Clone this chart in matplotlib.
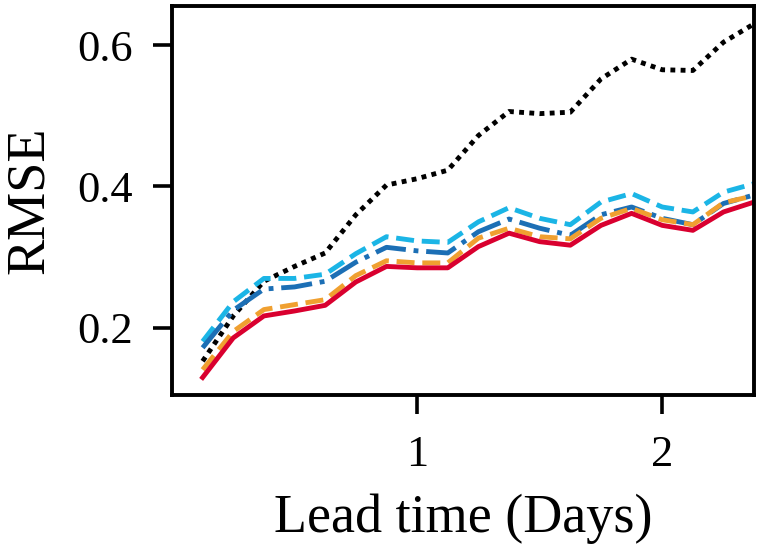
import matplotlib
matplotlib.use("Agg")
import matplotlib.pyplot as plt

# lead time in days (3-hourly steps)
lead_days = [0.125, 0.25, 0.375, 0.5, 0.625, 0.75, 0.875, 1.0, 1.125, 1.25,
             1.375, 1.5, 1.625, 1.75, 1.875, 2.0, 2.125, 2.25, 2.375]

rmse_black = [0.153, 0.217, 0.266, 0.287, 0.306, 0.360, 0.402, 0.411, 0.423, 0.472,
              0.506, 0.503, 0.505, 0.552, 0.580, 0.565, 0.564, 0.604, 0.630]
rmse_cyan = [0.181, 0.237, 0.270, 0.270, 0.276, 0.305, 0.329, 0.323, 0.321, 0.350,
             0.370, 0.355, 0.346, 0.378, 0.390, 0.371, 0.364, 0.392, 0.404]
rmse_blue = [0.172, 0.225, 0.255, 0.258, 0.266, 0.293, 0.314, 0.309, 0.306, 0.336,
             0.354, 0.341, 0.331, 0.360, 0.371, 0.355, 0.346, 0.376, 0.388]
rmse_orange = [0.141, 0.195, 0.226, 0.233, 0.240, 0.274, 0.295, 0.292, 0.292, 0.327,
               0.341, 0.329, 0.326, 0.355, 0.369, 0.353, 0.346, 0.377, 0.387]
rmse_red = [0.130, 0.186, 0.217, 0.224, 0.232, 0.265, 0.287, 0.285, 0.285, 0.315,
            0.334, 0.322, 0.317, 0.345, 0.362, 0.345, 0.338, 0.364, 0.378]

plt.rcParams["font.family"] = ["Liberation Serif", "DejaVu Serif"]

fig = plt.figure(figsize=(7.61, 5.55), dpi=100)
ax = fig.add_axes([0.226, 0.288, 0.765, 0.701])

lw = 3.5
ax.plot(lead_days, rmse_black, color="black", linewidth=lw, dashes=(1.0, 1.1))
ax.plot(lead_days, rmse_cyan, color="#1bb5e6", linewidth=lw, linestyle="--")
ax.plot(lead_days, rmse_blue, color="#1c6fb5", linewidth=lw, linestyle="-.")
ax.plot(lead_days, rmse_orange, color="#f0a030", linewidth=lw, linestyle="--")
ax.plot(lead_days, rmse_red, color="#d9002f", linestyle="-", linewidth=lw)

ax.set_xlim(0, 2.375)
ax.set_ylim(0.105, 0.655)
ax.set_xticks([1, 2])
ax.set_xticklabels(["1", "2"])
ax.set_yticks([0.2, 0.4, 0.6])
ax.set_yticklabels(["0.2", "0.4", "0.6"])

ax.tick_params(axis="both", labelsize=32, length=14, width=2.6)
ax.tick_params(axis="y", pad=14)
ax.tick_params(axis="x", pad=15)
for sp in ax.spines.values():
    sp.set_linewidth(2.8)

ax.set_xlabel("Lead time (Days)", fontsize=39, labelpad=13)
ax.set_ylabel("RMSE", fontsize=39, labelpad=16)

fig.savefig("out.png", dpi=100)
